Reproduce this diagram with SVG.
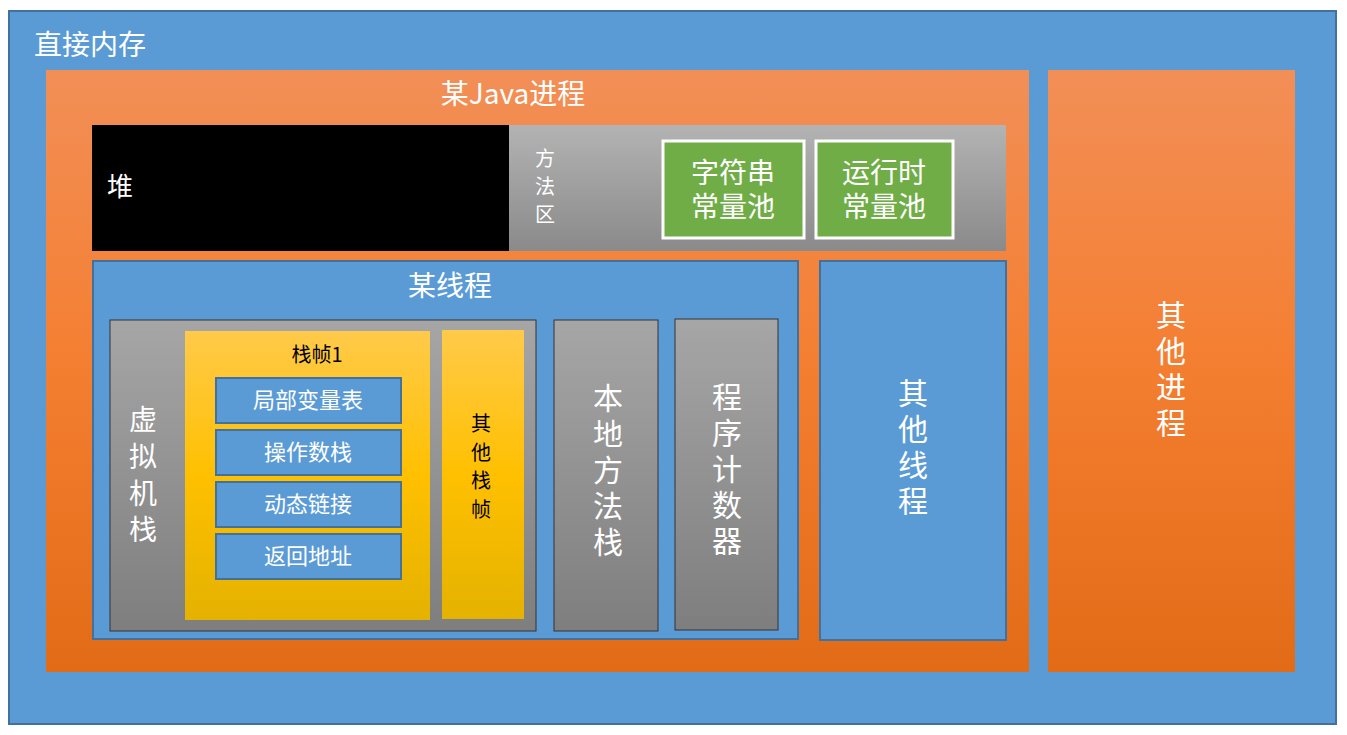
<svg xmlns="http://www.w3.org/2000/svg" width="1347" height="735" viewBox="0 0 1347 735">
<defs>
<linearGradient id="og" x1="0" y1="0" x2="0" y2="1"><stop offset="0" stop-color="#F28F57"/><stop offset="0.5" stop-color="#F47E30"/><stop offset="1" stop-color="#E26B17"/></linearGradient>
<linearGradient id="gg" x1="0" y1="0" x2="0" y2="1"><stop offset="0" stop-color="#B3B3B3"/><stop offset="1" stop-color="#8A8A8A"/></linearGradient>
<linearGradient id="gv" x1="0" y1="0" x2="0" y2="1"><stop offset="0" stop-color="#A6A6A6"/><stop offset="1" stop-color="#7E7E7E"/></linearGradient>
<linearGradient id="yg" x1="0" y1="0" x2="0" y2="1"><stop offset="0" stop-color="#FFCA4A"/><stop offset="0.5" stop-color="#FFC000"/><stop offset="1" stop-color="#E4B200"/></linearGradient>
</defs>
<style>
text{font-family:"Noto Sans CJK SC","Liberation Sans",sans-serif;fill:#fff;text-anchor:middle}
.blue{fill:#5B9BD5;stroke:#41719C;stroke-width:2}
.gray{fill:url(#gv);stroke:#333;stroke-width:1}
.t28{font-size:28px}.t30{font-size:30px}.t20{font-size:20px}.t22{font-size:22px}
.blk{fill:#000}
</style>
<g id="direct"><rect x="9" y="11" width="1327" height="713" class="blue"/><text x="34" y="55" class="t28" style="text-anchor:start">直接内存</text></g>
<g id="java"><rect x="46" y="70" width="983" height="602" fill="url(#og)"/><text x="513" y="104" class="t28">某Java进程</text></g>
<g id="heap"><rect x="92" y="125" width="417" height="126" fill="#000"/><text x="107" y="196" style="font-size:26px;text-anchor:start">堆</text></g>
<g id="method"><rect x="509" y="125" width="497" height="126" fill="url(#gg)"/><text x="545" y="166" class="t20">方</text><text x="545" y="194" class="t20">法</text><text x="545" y="222" class="t20">区</text></g>
<g id="strpool"><rect x="663" y="141" width="141" height="97" fill="#70AD47" stroke="#fff" stroke-width="3"/><text x="733" y="183" class="t28">字符串</text><text x="733" y="217" class="t28">常量池</text></g>
<g id="rtpool"><rect x="816" y="141" width="137" height="97" fill="#70AD47" stroke="#fff" stroke-width="3"/><text x="884" y="183" class="t28">运行时</text><text x="884" y="217" class="t28">常量池</text></g>
<g id="thread"><rect x="93" y="261" width="705" height="378" class="blue"/><text x="450" y="296" class="t28">某线程</text></g>
<g id="vmstack"><rect x="110" y="320" width="426" height="311" class="gray"/><text x="143" y="430" class="t28">虚</text><text x="143" y="467" class="t28">拟</text><text x="143" y="504" class="t28">机</text><text x="143" y="540" class="t28">栈</text></g>
<g id="frame1"><rect x="185" y="331" width="245" height="289" fill="url(#yg)"/><text x="317" y="362" class="t20 blk">栈帧1</text></g>
<g id="locals"><rect x="216" y="378" width="185" height="45" class="blue"/><text x="308" y="408" class="t22">局部变量表</text></g>
<g id="opstack"><rect x="216" y="430" width="185" height="45" class="blue"/><text x="308" y="460" class="t22">操作数栈</text></g>
<g id="dynlink"><rect x="216" y="482" width="185" height="45" class="blue"/><text x="308" y="512" class="t22">动态链接</text></g>
<g id="retaddr"><rect x="216" y="534" width="185" height="45" class="blue"/><text x="308" y="564" class="t22">返回地址</text></g>
<g id="otherframes"><rect x="442" y="330" width="82" height="289" fill="url(#yg)"/><text x="481" y="431" class="t20 blk">其</text><text x="481" y="460" class="t20 blk">他</text><text x="481" y="488" class="t20 blk">栈</text><text x="481" y="517" class="t20 blk">帧</text></g>
<g id="native"><rect x="554" y="320" width="104" height="311" class="gray"/><text x="608" y="409" class="t30">本</text><text x="608" y="445" class="t30">地</text><text x="608" y="481" class="t30">方</text><text x="608" y="517" class="t30">法</text><text x="608" y="553" class="t30">栈</text></g>
<g id="pc"><rect x="675" y="319" width="103" height="311" class="gray"/><text x="727" y="408" class="t30">程</text><text x="727" y="444" class="t30">序</text><text x="727" y="480" class="t30">计</text><text x="727" y="516" class="t30">数</text><text x="727" y="552" class="t30">器</text></g>
<g id="otherthreads"><rect x="820" y="261" width="186" height="379" class="blue"/><text x="913" y="404" class="t30">其</text><text x="913" y="440" class="t30">他</text><text x="913" y="476" class="t30">线</text><text x="913" y="512" class="t30">程</text></g>
<g id="otherproc"><rect x="1048" y="70" width="247" height="602" fill="url(#og)"/><text x="1171" y="326" class="t30">其</text><text x="1171" y="362" class="t30">他</text><text x="1171" y="398" class="t30">进</text><text x="1171" y="434" class="t30">程</text></g>
<g id="connectors"/>
</svg>
